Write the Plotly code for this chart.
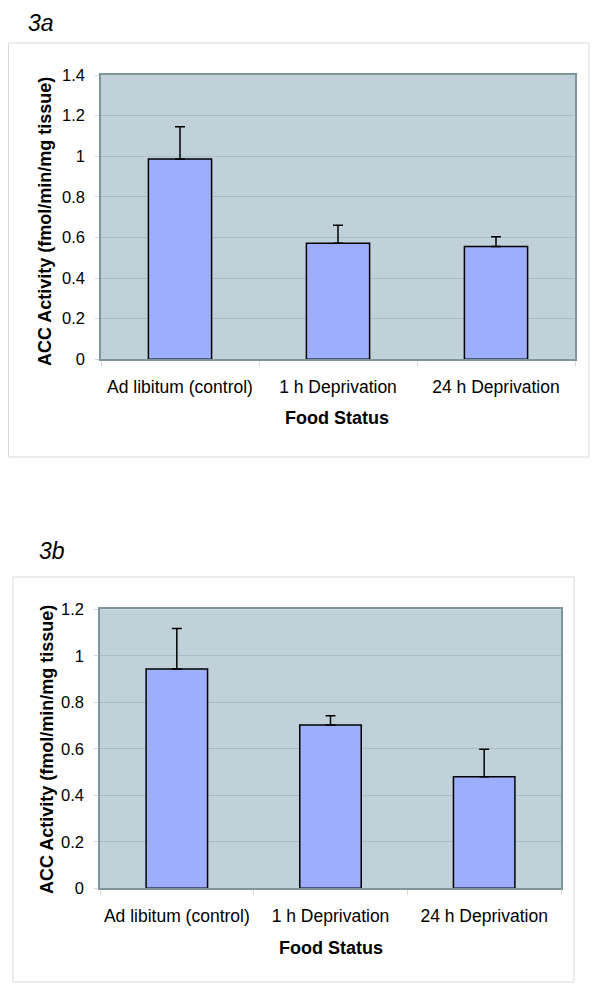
import plotly.graph_objects as go

categories = ["Ad libitum (control)", "1 h Deprivation", "24 h Deprivation"]
values_3a = [0.986, 0.572, 0.555]
errors_3a = [0.159, 0.088, 0.049]
values_3b = [0.943, 0.702, 0.480]
errors_3b = [0.174, 0.040, 0.118]
yticks_3a = [0, 0.2, 0.4, 0.6, 0.8, 1, 1.2, 1.4]
yticks_3b = [0, 0.2, 0.4, 0.6, 0.8, 1, 1.2]

# The page body has an 8px default margin, so the figure is 16px smaller
# than the window and all reference pixel positions are offset by 8px.
PAGE_W, PAGE_H = 600, 991
OFF = 8
W, H = PAGE_W - 2 * OFF, PAGE_H - 2 * OFF
FONT = "Liberation Sans, Arial, sans-serif"
BAR = "#9daeff"
BG = "#c1d1d9"
GRID = "#a9bcc5"
FRAME = "#7d969c"


def px(x):
    return (x - OFF) / W


def py(y):
    return 1 - (y - OFF) / H


fig = go.Figure()

for vals, errs, xa, ya in [(values_3a, errors_3a, "x", "y"), (values_3b, errors_3b, "x2", "y2")]:
    fig.add_trace(go.Bar(
        x=categories, y=vals, xaxis=xa, yaxis=ya, width=0.4,
        marker=dict(color=BAR, line=dict(color="black", width=1.5)),
        error_y=dict(type="data", array=errs, arrayminus=[0] * len(errs), symmetric=False,
                     color="black", thickness=1.5, width=5),
        showlegend=False, hoverinfo="skip"))

xcommon = dict(type="category", showgrid=False, showline=True, linecolor=FRAME, linewidth=1.5,
               mirror=True, ticks="outside", tickson="boundaries", ticklen=5, tickcolor="#d8d8d8",
               tickfont=dict(family=FONT, size=17.5, color="black"), ticklabelstandoff=11,
               tickangle=0, automargin=False, zeroline=False, fixedrange=True)
ycommon = dict(showgrid=True, gridcolor=GRID, gridwidth=1, showline=True, linecolor=FRAME,
               linewidth=1.5, mirror=True, ticks="outside", ticklen=4, tickcolor="#d8d8d8",
               tickfont=dict(family=FONT, size=16.5, color="black"), ticklabelstandoff=7,
               automargin=False, zeroline=False, fixedrange=True)

fig.update_layout(
    width=W, height=H, margin=dict(l=0, r=0, t=0, b=0, autoexpand=False),
    paper_bgcolor="white", plot_bgcolor=BG,
    xaxis=dict(xcommon, domain=[px(101), px(575)], anchor="y"),
    yaxis=dict(ycommon, domain=[py(359.3), py(75)], anchor="x", range=[0, 1.4],
               tickvals=yticks_3a, ticktext=[f"{v:g}" for v in yticks_3a]),
    xaxis2=dict(xcommon, domain=[px(100), px(561)], anchor="y2"),
    yaxis2=dict(ycommon, domain=[py(888.3), py(609.3)], anchor="x2", range=[0, 1.2],
                tickvals=yticks_3b, ticktext=[f"{v:g}" for v in yticks_3b]),
)

fig.add_shape(type="rect", xref="paper", yref="paper", x0=px(8.5), x1=px(589), y0=py(457), y1=py(43),
              line=dict(color="#d9d9d9", width=1), fillcolor="rgba(0,0,0,0)", layer="below")
fig.add_shape(type="rect", xref="paper", yref="paper", x0=px(13), x1=px(574), y0=py(982), y1=py(577),
              line=dict(color="#d9d9d9", width=1), fillcolor="rgba(0,0,0,0)", layer="below")


def note(text, x, y, size, angle=0, xanchor="center", yanchor="middle"):
    return dict(text=text, x=px(x), y=py(y), xanchor=xanchor, yanchor=yanchor, textangle=angle,
                font=dict(family=FONT, size=size, color="black"), showarrow=False,
                xref="paper", yref="paper")


fig.update_layout(annotations=[
    note("<i>3a</i>", 26, 8, 23, xanchor="left", yanchor="top"),
    note("<i>3b</i>", 37, 551, 23, xanchor="left"),
    note("<b>Food Status</b>", 337, 418, 18),
    note("<b>Food Status</b>", 331, 948, 18),
    note("<b>ACC Activity (fmol/min/mg tissue)</b>", 45, 222, 18, angle=-90),
    note("<b>ACC Activity (fmol/min/mg tissue)</b>", 47, 750, 18, angle=-90),
])

fig.write_html("out.html")
